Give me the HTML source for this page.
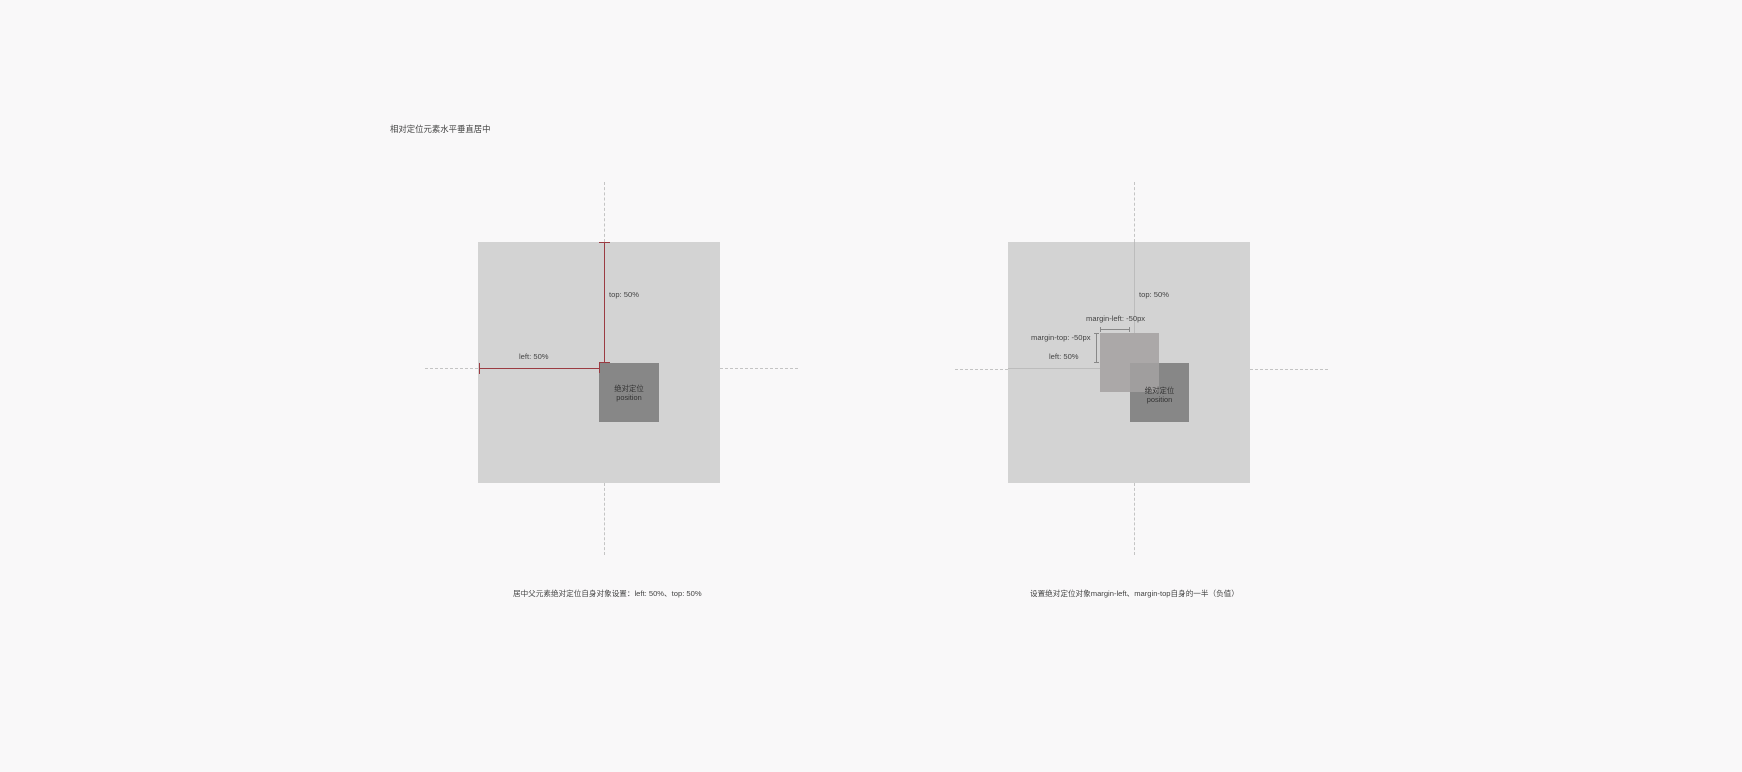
<!DOCTYPE html>
<html><head><meta charset="utf-8">
<style>
html,body{margin:0;padding:0;width:1742px;height:772px;background:#f9f8f9;overflow:hidden;font-family:"Liberation Sans","Noto Sans CJK SC",sans-serif;color:#444}
.a{position:absolute}
.t{position:absolute;font-size:7.6px;white-space:nowrap;color:#444}
.dv{position:absolute;width:0;border-left:1px dashed #c4c4c4}
.dh{position:absolute;height:0;border-top:1px dashed #c4c4c4}
</style></head><body>
<div class="t" style="left:390px;top:123px;font-size:8.4px">相对定位元素水平垂直居中</div>

<div class="a" style="left:0;top:0">
<div class="a" style="left:478px;top:242px;width:242px;height:241px;background:#d3d3d3"></div>
<div class="dv" style="left:604px;top:182px;height:60px"></div>
<div class="dv" style="left:604px;top:483px;height:72px"></div>
<div class="dh" style="left:425px;top:368px;width:53px"></div>
<div class="dh" style="left:720px;top:368px;width:78px"></div>
<div class="a" style="left:599px;top:363px;width:60px;height:59px;background:#878787"></div>
<div class="t" style="left:599px;top:384px;width:60px;text-align:center;line-height:9px;font-size:7.4px;color:#333">绝对定位<br>position</div>
<div class="a" style="left:604px;top:242px;width:1px;height:121px;background:#9b3b42"></div>
<div class="a" style="left:599px;top:242px;width:11px;height:1px;background:#9b3b42"></div>
<div class="a" style="left:479px;top:368px;width:120px;height:1px;background:#9b3b42"></div>
<div class="a" style="left:479px;top:363px;width:1px;height:11px;background:#9b3b42"></div>
<div class="a" style="left:599px;top:362px;width:1px;height:11px;background:#9b3b42"></div>
<div class="a" style="left:599px;top:362px;width:11px;height:1px;background:#9b3b42"></div>
<div class="t" style="left:609px;top:290px">top: 50%</div>
<div class="t" style="left:519px;top:352px">left: 50%</div>
<div class="t" style="left:513px;top:588px;font-size:7.6px">居中父元素绝对定位自身对象设置：left: 50%、top: 50%</div>
</div>

<div class="a" style="left:0;top:0">
<div class="a" style="left:1008px;top:242px;width:242px;height:241px;background:#d3d3d3"></div>
<div class="dv" style="left:1134px;top:182px;height:60px"></div>
<div class="a" style="left:1134px;top:242px;width:1px;height:91px;background:#bcbcbc"></div>
<div class="dv" style="left:1134px;top:483px;height:72px"></div>
<div class="dh" style="left:955px;top:369px;width:53px"></div>
<div class="a" style="left:1008px;top:368px;width:92px;height:1px;background:#bcbcbc"></div>
<div class="dh" style="left:1250px;top:369px;width:78px"></div>
<div class="a" style="left:1130px;top:363px;width:59px;height:59px;background:#878787"></div>
<div class="a" style="left:1100px;top:333px;width:59px;height:59px;background:#aba8a8"></div>
<div class="a" style="left:1130px;top:363px;width:29px;height:29px;background:#a09e9e"></div>
<div class="t" style="left:1130px;top:386px;width:59px;text-align:center;line-height:9px;font-size:7.4px;color:#333">绝对定位<br>position</div>
<div class="a" style="left:1100px;top:329px;width:30px;height:1px;background:#888"></div>
<div class="a" style="left:1100px;top:327px;width:1px;height:5px;background:#888"></div>
<div class="a" style="left:1129px;top:327px;width:1px;height:5px;background:#888"></div>
<div class="a" style="left:1096px;top:333px;width:1px;height:30px;background:#888"></div>
<div class="a" style="left:1094px;top:333px;width:5px;height:1px;background:#888"></div>
<div class="a" style="left:1094px;top:362px;width:5px;height:1px;background:#888"></div>
<div class="t" style="left:1139px;top:290px">top: 50%</div>
<div class="t" style="left:1086px;top:314px">margin-left: -50px</div>
<div class="t" style="left:1031px;top:333px">margin-top: -50px</div>
<div class="t" style="left:1049px;top:352px">left: 50%</div>
<div class="t" style="left:1030px;top:588px;font-size:7.6px">设置绝对定位对象margin-left、margin-top自身的一半（负值）</div>
</div>
</body></html>
